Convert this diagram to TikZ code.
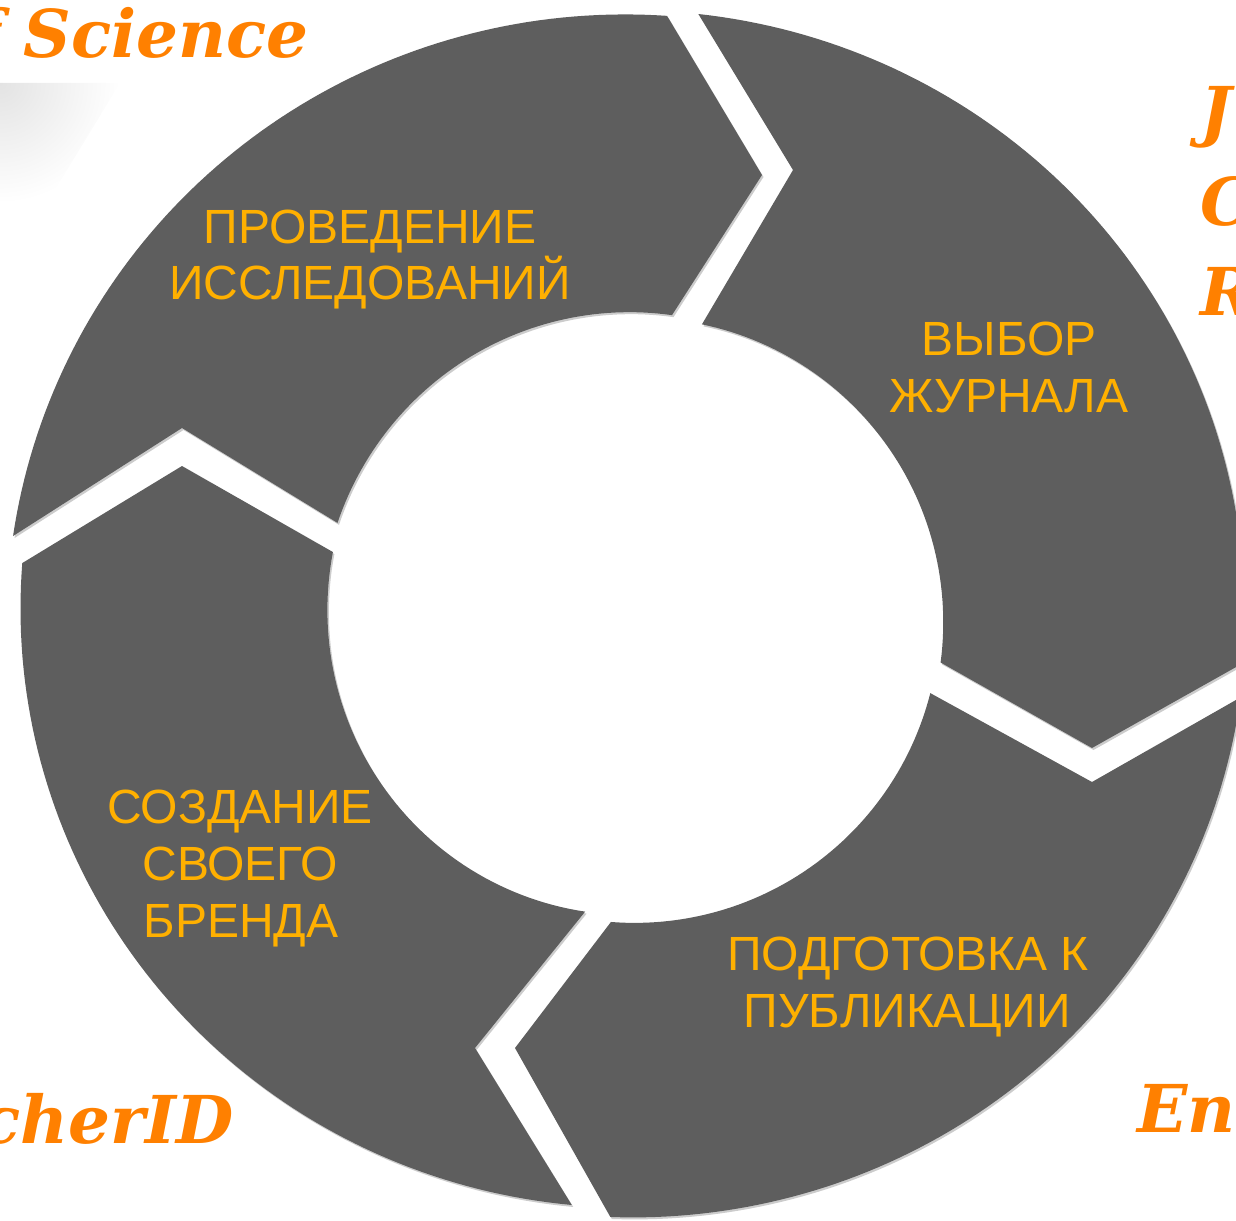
\documentclass[tikz,border=0pt]{standalone}
\usepackage{fontspec}
\setmainfont{Liberation Sans}
\newfontfamily\cornerfont{DejaVu Serif}
\usetikzlibrary{shadows}
\definecolor{seggray}{HTML}{5E5E5E}
\definecolor{labelgold}{HTML}{FFB000}
\definecolor{cornerorange}{HTML}{FF8000}
\tikzset{
  seg/.style={fill=seggray, drop shadow={shadow xshift=1.5pt, shadow yshift=-2pt, opacity=0.2, fill=black}},
  lbl/.style={text=labelgold, font=\fontsize{48}{57}\selectfont, inner sep=0pt, anchor=base},
  crn/.style={text=cornerorange, font=\cornerfont\bfseries\itshape\fontsize{66}{70}\selectfont, inner sep=0pt}
}
\begin{document}
\begin{tikzpicture}[x=1pt,y=-1pt]
\useasboundingbox (0,0) rectangle (1236,1220);
\clip (0,0) rectangle (1236,1220);
% soft grey gradient at top left
\begin{scope}
  \clip (0,83) -- (120,83) -- (0,280) -- cycle;
  \shade[inner color=black!11, outer color=white] (0,83) circle[radius=120];
\end{scope}
% segment 1 (top left)
\fill[seg] plot[domain=-162.5:-83.2,samples=60] ({636+(313-0.1135*(\x+162.5))*cos(\x)},{617+(313-0.1135*(\x+162.5))*sin(\x)})
  -- (762,175)
  -- plot[domain=-87:-172.62,samples=80] ({635+615*(1.0198-0.000292*(\x+172.62))*cos(\x)},{615+603*(1.0198-0.000292*(\x+172.62))*sin(\x)})
  -- (182,428) -- cycle;
% segment 2 (top right)
\fill[seg] plot[domain=-77.3:8.5,samples=60] ({636+(300+0.0932*(\x+77.3))*cos(\x)},{617+(300+0.0932*(\x+77.3))*sin(\x)})
  -- (1092,748)
  -- plot[domain=4.7:-84.1,samples=80] ({635+615*(1.002-0.000135*(\x+84.1))*cos(\x)},{615+603*(1.002-0.000135*(\x+84.1))*sin(\x)})
  -- (793,170) -- cycle;
% segment 3 (bottom right)
\fill[seg] plot[domain=14.5:94.7,samples=60] ({636+(304+0.025*(\x-14.5))*cos(\x)},{617+(304+0.025*(\x-14.5))*sin(\x)})
  -- (515,1048)
  -- plot[domain=92.3:7.9,samples=80] ({635+615*(0.994+0.0000592*(\x-7.9))*cos(\x)},{615+603*(0.994+0.0000592*(\x-7.9))*sin(\x)})
  -- (1092,782) -- cycle;
% segment 4 (bottom left)
\fill[seg] plot[domain=99.8:192.1,samples=60] ({636+(299+0.1192*(\x-99.8))*cos(\x)},{617+(299+0.1192*(\x-99.8))*sin(\x)})
  -- (182,466)
  -- plot[domain=184.94:96,samples=80] ({635+615*(0.9838+0.0001866*(\x-96))*cos(\x)},{615+603*(0.9838+0.0001866*(\x-96))*sin(\x)})
  -- (475,1048) -- cycle;
% labels
\node[lbl] (l1a) at (370,243) {ПРОВЕДЕНИЕ};
\node[lbl] (l1b) at (370,299) {ИССЛЕДОВАНИЙ};
\node[lbl] (l2a) at (1009,355) {ВЫБОР};
\node[lbl] (l2b) at (1009,412) {ЖУРНАЛА};
\node[lbl] (l3a) at (908,970) {ПОДГОТОВКА К};
\node[lbl] (l3b) at (907,1027) {ПУБЛИКАЦИИ};
\node[lbl] (l4a) at (240,823) {СОЗДАНИЕ};
\node[lbl] (l4b) at (240,880) {СВОЕГО};
\node[lbl] (l4c) at (241,937) {БРЕНДА};
% corner words
\node[crn, anchor=base east] (wos) at (309,58) {f Science};
\node[crn, anchor=base west] (jcrj) at (1200,135) {J};
\node[crn, anchor=base west] (jcrc) at (1200,225) {C};
\node[crn, anchor=base west] (jcrr) at (1200,315) {R};
\node[crn, anchor=base east] (rid) at (234,1143) {cherID};
\node[crn, anchor=base west] (en) at (1137,1132) {En};
\end{tikzpicture}
\end{document}
